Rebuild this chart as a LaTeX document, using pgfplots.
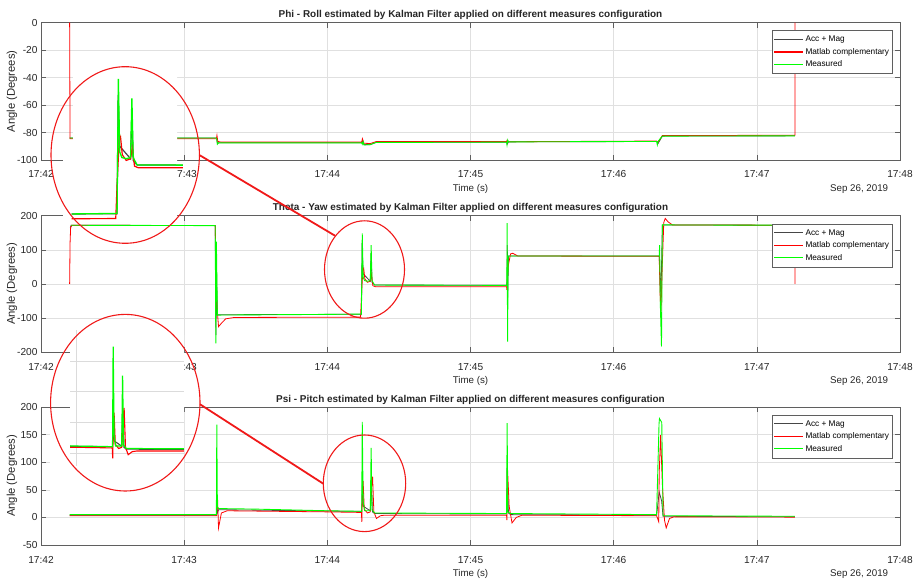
\documentclass[border=0pt]{standalone}
\usepackage{fontspec}
\setmainfont{Liberation Sans}
\usepackage{pgfplots}
\pgfplotsset{compat=1.18}
\usepackage{pgfplotstable}

\definecolor{mred}{RGB}{255,0,0}
\definecolor{mgreen}{RGB}{0,255,0}
\definecolor{mgray}{RGB}{70,70,70}
\definecolor{framec}{RGB}{95,95,95}
\definecolor{gridc}{RGB}{224,224,224}
\definecolor{zoomred}{RGB}{240,25,25}

% ---------------- Phi - Roll ----------------
\pgfplotstableread{
t v
0.20 -84
1.225 -84
1.228 -85
1.232 -88
1.24 -87.5
2.24 -87.5
2.246 -86.5
2.256 -88.8
2.30 -88.8
2.34 -87.2
3.252 -87
3.256 -88.5
3.265 -86.8
4.30 -86.5
4.31 -88
4.34 -82.6
5.266 -82.4
}\phiGray
\pgfplotstableread{
t v
0.200 0
0.203 -84.5
0.21 -84.5
1.225 -84.5
1.229 -82
1.235 -86.5
1.26 -87
2.24 -87
2.245 -84.5
2.255 -87.8
2.30 -88
2.34 -86.6
3.252 -86.6
3.256 -85.5
3.265 -86.7
4.30 -86.2
4.31 -87
4.34 -82.2
5.266 -82
5.266 0
}\phiRed
\pgfplotstableread{
t v
0.20 -84
1.225 -84
1.228 -85
1.232 -88.5
1.24 -87.5
2.24 -87.5
2.244 -88.5
2.25 -86.5
2.256 -89
2.30 -88.8
2.34 -87.2
3.252 -87
3.255 -89
3.26 -85.5
3.265 -86.8
4.30 -86.5
4.305 -89
4.31 -86.5
4.34 -82.6
5.266 -82.4
}\phiGreen

% ---------------- Theta - Yaw ----------------
\pgfplotstableread{
t v
0.205 165
0.21 172
1.217 171
1.222 -150
1.226 40
1.232 -90
2.0 -89
2.238 -88.5
2.243 120
2.25 30
2.30 8
2.306 90
2.312 5
2.33 -3
3.254 -4
3.257 114
3.26 -40
3.265 82
4.318 82
4.33 -41
4.34 173
5.266 172
}\thGray
\pgfplotstableread{
t v
0.200 0
0.203 120
0.207 165
0.215 172
1.217 171
1.222 40
1.228 -60
1.24 -125
1.26 -115
1.29 -102
1.35 -98
2.232 -97
2.24 -20
2.248 40
2.254 46
2.262 15
2.28 5
2.30 8
2.308 28
2.318 -5
2.336 -8
3.252 -8
3.254 -17
3.262 50
3.28 88
3.295 90
3.33 82
4.318 81
4.325 -40
4.33 -81
4.34 60
4.35 180
4.36 192
4.38 182
4.41 173
5.266 172
5.266 0
}\thRed
\pgfplotstableread{
t v
0.21 172
1.217 171
1.221 -174
1.225 124
1.232 -91
2.0 -89
2.238 -88
2.244 148
2.25 20
2.26 10
2.28 8
2.30 10
2.306 114
2.312 10
2.33 -3
3.254 -4
3.256 178
3.259 -169
3.263 82
4.318 82
4.321 114
4.326 -60
4.334 -183
4.34 173
5.266 172
}\thGreen

% ---------------- Psi - Pitch ----------------
\pgfplotstableread{
t v
0.2 4
1.225 4
1.228 40
1.232 8
1.24 14
2.0 11.5
2.24 11
2.245 60
2.252 20
2.30 12
2.307 70
2.315 10
2.33 7
3.252 6
3.256 90
3.265 8
3.28 5
4.30 4
4.318 46
4.335 30
4.345 2
5.266 1
}\psGray
\pgfplotstableread{
t v
0.2 3
1.225 3
1.227 30
1.233 36
1.24 -19
1.26 8
1.30 12
2.0 10
2.238 9
2.241 -8
2.245 50
2.25 66
2.258 15
2.28 8
2.30 10
2.31 60
2.316 74
2.325 10
2.343 -2
2.37 3
2.40 4
3.252 4
3.254 -5
3.258 92
3.27 20
3.29 -10
3.32 0
3.36 4
4.30 3
4.315 -8
4.318 80
4.328 149
4.34 60
4.355 -5
4.367 -19
4.39 -2
4.42 1
5.266 0.5
}\psRed
\pgfplotstableread{
t v
0.2 5
1.225 5
1.228 168
1.232 20
1.24 16
1.5 15
2.0 12
2.24 11
2.244 173
2.25 30
2.26 12
2.30 12
2.306 126
2.312 14
2.33 8
3.252 7
3.256 171
3.26 10
3.28 7
4.30 5
4.317 170
4.32 179
4.336 172
4.345 3
5.266 2
}\psGreen

\pgfplotsset{
  mainax/.style={
    scale only axis, width=859bp, xmin=0, xmax=6,
    xtick={0,1,2,3,4,5,6},
    xticklabels={17:42,17:43,17:44,17:45,17:46,17:47,17:48},
    grid=major, major grid style={draw=gridc, line width=0.6bp},
    axis line style={draw=framec, line width=0.7bp},
    every tick/.style={draw=framec, line width=0.6bp},
    tick align=inside, major tick length=5bp,
    /pgf/number format/assume math mode=true,
    tick label style={font=\fontsize{10.2}{12}\selectfont, text=black!85},
    xticklabel style={anchor=base, yshift=-18bp},
    every axis title shift=0pt,
    title style={font=\bfseries\fontsize{10}{12}\selectfont, text=black!85, at={(axis description cs:0.5,1)}, anchor=base, yshift=5bp},
    xlabel={Time (s)},
    ylabel={Angle (Degrees)},
    every axis x label/.style={at={(axis description cs:0.5,0)}, anchor=base, yshift=-31.5bp, font=\fontsize{9.8}{11}\selectfont, text=black!85},
    every axis y label/.style={at={(axis description cs:-0.0338,0.5)}, rotate=90, anchor=center, font=\fontsize{11.3}{13}\selectfont, text=black!85},
    legend style={at={(axis description cs:0.9919,1)}, anchor=north east, yshift=-7.5bp,
      draw=framec, line width=0.6bp, fill=white, font=\fontsize{8.3}{10}\selectfont,
      inner xsep=2bp, inner ysep=2.75bp, row sep=0bp,
      nodes={inner sep=1.6bp, text height=7bp, text depth=2.3bp}},
    legend image code/.code={\draw[#1, line width=1.1bp] (0bp,0bp) -- (29bp,0bp);},
    legend cell align=left,
    clip mode=individual,
  },
  gline/.style={mgray, line width=0.8bp},
  rline/.style={mred, line width=0.8bp},
  vline/.style={mgreen, line width=0.9bp},
}

\begin{document}
\begin{tikzpicture}
\useasboundingbox (0bp,0bp) rectangle (915bp,581bp);

% ---------- Axis 1 ----------
\begin{axis}[mainax, at={(41bp,421bp)}, anchor=south west, height=137.3bp,
  ymin=-100, ymax=0, ytick={-100,-80,-60,-40,-20,0},
  title={Phi - Roll estimated by Kalman Filter applied on different measures configuration}]
\addplot[gline] table {\phiGray};
\addplot[rline] table {\phiRed};
\addplot[vline] table {\phiGreen};
\legend{Acc + Mag, Matlab complementary, Measured}
\node[anchor=base east, font=\fontsize{9.8}{11}\selectfont, text=black!85, xshift=-8.3bp, yshift=-31.5bp] at (rel axis cs:1,0) {Sep 26, 2019};
\end{axis}

% ---------- Axis 2 ----------
\begin{axis}[mainax, at={(41bp,228.7bp)}, anchor=south west, height=136.6bp,
  ymin=-200, ymax=200, ytick={-200,-100,0,100,200},
  legend style={yshift=-0.4bp},
  title={Theta - Yaw estimated by Kalman Filter applied on different measures configuration}]
\addplot[gline] table {\thGray};
\addplot[rline] table {\thRed};
\addplot[vline] table {\thGreen};
\legend{Acc + Mag, Matlab complementary, Measured}
\node[anchor=base east, font=\fontsize{9.8}{11}\selectfont, text=black!85, xshift=-8.3bp, yshift=-31.5bp] at (rel axis cs:1,0) {Sep 26, 2019};
\end{axis}

% ---------- Axis 3 ----------
\begin{axis}[mainax, at={(41bp,36bp)}, anchor=south west, height=138bp,
  ymin=-50, ymax=200, ytick={-50,0,50,100,150,200},
  title={Psi - Pitch estimated by Kalman Filter applied on different measures configuration}]
\addplot[gline] table {\psGray};
\addplot[rline] table {\psRed};
\addplot[vline] table {\psGreen};
\legend{Acc + Mag, Matlab complementary, Measured}
\node[anchor=base east, font=\fontsize{9.8}{11}\selectfont, text=black!85, xshift=-8.3bp, yshift=-31.5bp] at (rel axis cs:1,0) {Sep 26, 2019};
\end{axis}

% ---------- white masks under the magnified views ----------
\fill[white] (63bp,359bp) -- (63bp,441bp) -- (73bp,441bp) -- (73bp,517bp) -- (177bp,517bp) -- (177bp,359bp) -- cycle;
\fill[white] (70bp,246bp) -- (184bp,246bp) -- (184bp,78bp) -- (50bp,78bp) -- (50bp,161bp) -- (70bp,161bp) -- cycle;

% ---------- magnified view of Theta ----------
\begin{axis}[at={(71.7bp,359bp)}, anchor=south west, scale only axis,
  width=111.2bp, height=157.9bp, xmin=2.03, xmax=2.54, ymin=-103, ymax=174, hide axis]
\addplot[mgray, line width=1.2bp] table {\thGray};
\addplot[mred, line width=1.2bp] table {\thRed};
\addplot[mgreen, line width=1.3bp] table {\thGreen};
\end{axis}

% ---------- magnified view of Psi ----------
\begin{axis}[at={(70bp,115.2bp)}, anchor=south west, scale only axis,
  width=114bp, height=135.7bp, xmin=1.96, xmax=2.71, ymin=-20, ymax=200,
  axis line style={draw=none}, major tick length=0pt,
  xtick={2}, ytick={0,50,100,150}, xticklabels={}, yticklabels={},
  grid=major, major grid style={draw=black!14, line width=0.6bp}]
\addplot[mgray, line width=1.1bp] table {\psGray};
\addplot[mred, line width=1.1bp] table {\psRed};
\addplot[mgreen, line width=1.2bp] table {\psGreen};
\end{axis}

% ---------- zoom circles and connectors ----------
\draw[zoomred, line width=1.1bp] (125.2bp,426bp) ellipse [x radius=74.2bp, y radius=88.3bp];
\draw[zoomred, line width=1.1bp] (125.3bp,178.3bp) ellipse [x radius=74.7bp, y radius=88.3bp];
\draw[zoomred, line width=1.1bp] (364.5bp,311.5bp) ellipse [x radius=40bp, y radius=48.7bp];
\draw[zoomred, line width=1.1bp] (364.5bp,97.7bp) ellipse [x radius=41.2bp, y radius=48.3bp];
\draw[zoomred, line width=1.8bp] (199.3bp,426bp) -- (335bp,345.3bp);
\draw[zoomred, line width=1.8bp] (200bp,176.7bp) -- (323.3bp,97.3bp);
\end{tikzpicture}
\end{document}
